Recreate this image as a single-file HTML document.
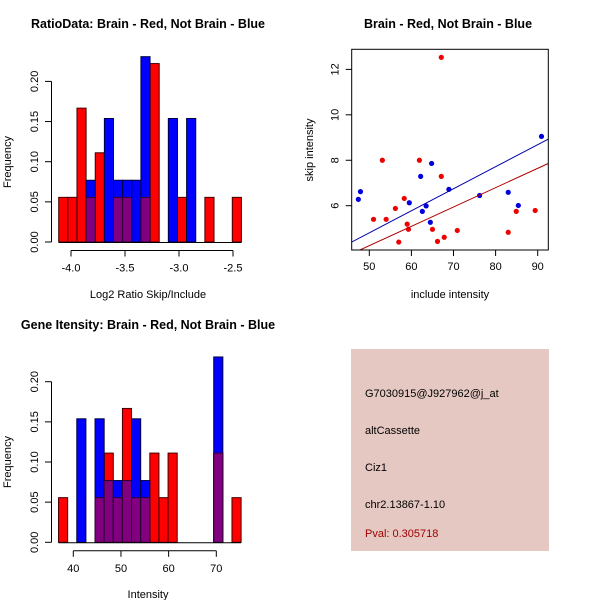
<!DOCTYPE html>
<html><head><meta charset="utf-8"><style>
body{margin:0;background:#fff}
svg{display:block;font-family:"Liberation Sans",sans-serif}
</style></head><body>
<svg id="s" width="600" height="600" viewBox="0 0 600 600" xmlns="http://www.w3.org/2000/svg">
<rect width="600" height="600" fill="#fff"/>
<text x="148" y="28" text-anchor="middle" font-size="12.5" font-weight="bold">RatioData: Brain - Red, Not Brain - Blue</text>
<text x="448" y="28" text-anchor="middle" font-size="12.5" font-weight="bold">Brain - Red, Not Brain - Blue</text>
<text x="148" y="329" text-anchor="middle" font-size="12.5" font-weight="bold">Gene Itensity: Brain - Red, Not Brain - Blue</text>
<text x="148" y="298" text-anchor="middle" font-size="11">Log2 Ratio Skip/Include</text>
<text x="148" y="598" text-anchor="middle" font-size="11">Intensity</text>
<text x="450" y="298" text-anchor="middle" font-size="11">include intensity</text>
<text transform="translate(11,162) rotate(-90)" text-anchor="middle" font-size="11">Frequency</text>
<text transform="translate(11,462) rotate(-90)" text-anchor="middle" font-size="11">Frequency</text>
<text transform="translate(313,150) rotate(-90)" text-anchor="middle" font-size="11">skip intensity</text>
<g>
<rect x="351" y="349" width="198" height="202" fill="#e6c8c2"/>
<text x="365" y="397" font-size="11">G7030915@J927962@j_at</text>
<text x="365" y="434" font-size="11">altCassette</text>
<text x="365" y="471" font-size="11">Ciz1</text>
<text x="365" y="508" font-size="11">chr2.13867-1.10</text>
<text x="365" y="537" font-size="11" fill="#a00000">Pval: 0.305718</text>
</g>
<g id="g1"></g><g id="g2"></g><g id="g3"></g>
</svg>
<script>
// Ratio histogram data
const ratioStart = -4.114, ratioBinWidth = 0.0846;
const ratioRed =  [0.0556,0.0556,0.1667,0.0556,0.1111,0,0.0556,0.0556,0,0.0556,0.2222,0,0,0.0556,0,0,0.0556,0,0,0.0556];
const ratioBlue = [0,0,0,0.0769,0,0.1538,0.0769,0.0769,0.0769,0.2308,0,0,0.1538,0,0.1538,0,0,0,0,0];
const ratioXTicks = [-4.0,-3.5,-3.0,-2.5];
const freqTicks = [0,0.05,0.10,0.15,0.20];
// Intensity histogram data
const intStart = 36.9, intBinWidth = 1.915;
const intRed =  [0.0556,0,0,0,0.0556,0.1111,0.0556,0.1667,0.0556,0.0556,0.1111,0.0556,0.1111,0,0,0,0,0.1111,0,0.0556];
const intBlue = [0,0,0.1538,0,0.1538,0.0769,0.0769,0.0769,0.1538,0.0769,0,0,0,0,0,0,0,0.2308,0,0];
const intXTicks = [40,50,60,70];
// Scatter data
const blueX = [47.4,47.9,59.5,62.2,64.8,62.6,63.5,64.5,68.9,76.2,83.0,85.4,90.9];
const blueY = [6.28,6.62,6.13,7.29,7.86,5.75,5.99,5.27,6.72,6.45,6.59,6.01,9.05];
const redX = [51.0,53.1,54.0,56.2,57.0,58.3,59.0,59.3,61.9,65.0,66.2,67.1,67.1,67.8,70.9,83.0,84.9,89.4];
const redY = [5.40,8.0,5.40,5.88,4.40,6.32,5.19,4.96,8.0,4.96,4.43,12.53,7.29,4.61,4.91,4.83,5.75,5.79];
const blueFit = [-0.044,0.097];
const redFit = [-0.014,0.0851];
const scatterXTicks = [50,60,70,80,90];
const scatterYTicks = [6,8,10,12];

const NS="http://www.w3.org/2000/svg";
function mk(p,t,a){const e=document.createElementNS(NS,t);for(const k in a)e.setAttribute(k,a[k]);p.appendChild(e);return e;}

function hist(g,y0,start,bw,red,blue,xt,fmt,xscale){
  const ys=v=>y0-v*803;
  const xs=xscale;
  const n=red.length;
  for(let i=0;i<n;i++){
    const a=xs(start+i*bw),b=xs(start+(i+1)*bw);
    if(red[i]>0){const r=mk(g,'rect',{x:a,y:ys(red[i]),width:b-a,height:y0-ys(red[i]),fill:'#ff0000',stroke:'#400000','stroke-width':1});
      
      }
  }
  for(let i=0;i<n;i++){
    const a=xs(start+i*bw),b=xs(start+(i+1)*bw);
    if(blue[i]>0){const r=mk(g,'rect',{x:a,y:ys(blue[i]),width:b-a,height:y0-ys(blue[i]),fill:'#0000ff',stroke:'#000040','stroke-width':1});
      
      }
    if(blue[i]>0&&red[i]>0){const m=Math.min(red[i],blue[i]);const r=mk(g,'rect',{x:a,y:ys(m),width:b-a,height:y0-ys(m),fill:'#800080',stroke:'#300030','stroke-width':1});
      
      }
  }
  mk(g,'line',{x1:xs(start),x2:xs(start+n*bw),y1:y0+0.5,y2:y0+0.5,stroke:'#000'});
  // y axis
  const ya=mk(g,'g',{});
  
  
  mk(ya,'line',{x1:51.5,x2:51.5,y1:ys(0),y2:ys(0.2),stroke:'#000'});
  freqTicks.forEach(v=>{mk(ya,'line',{x1:45,x2:51.5,y1:ys(v),y2:ys(v),stroke:'#000'});
    const t=mk(ya,'text',{transform:`translate(38,${ys(v)}) rotate(-90)`,'text-anchor':'middle','font-size':11});t.textContent=v.toFixed(2);});
  const xa=mk(g,'g',{});
  
  
  const ay=y0+8.5;
  mk(xa,'line',{x1:xs(xt[0]),x2:xs(xt[xt.length-1]),y1:ay,y2:ay,stroke:'#000'});
  xt.forEach(v=>{mk(xa,'line',{x1:xs(v),x2:xs(v),y1:ay,y2:ay+6,stroke:'#000'});
    const t=mk(xa,'text',{x:xs(v),y:ay+21,'text-anchor':'middle','font-size':11});t.textContent=fmt(v);});
}
hist(document.getElementById('g1'),242,ratioStart,ratioBinWidth,ratioRed,ratioBlue,ratioXTicks,v=>v.toFixed(1),v=>71+(v+4)*108);
hist(document.getElementById('g2'),542.3,intStart,intBinWidth,intRed,intBlue,intXTicks,v=>String(v),v=>73.3+(v-40)*4.767);

// scatter
(function(){
  const g=document.getElementById('g3');
  const xs=v=>369.3+(v-50)*4.21, ys=v=>205.7-(v-6)*22.72;
  const x0=351.7,x1=548.3,y0=49.3,y1=250;
  const cp=mk(g,'clipPath',{id:'cp'});mk(cp,'rect',{x:x0,y:y0,width:x1-x0,height:y1-y0});
  const pts=mk(g,'g',{});
  blueX.forEach((x,i)=>{const c=mk(pts,'circle',{cx:xs(x),cy:ys(blueY[i]),r:2.6,fill:'#0000dd'});
    
    });
  redX.forEach((x,i)=>{const c=mk(pts,'circle',{cx:xs(x),cy:ys(redY[i]),r:2.6,fill:'#ee0000'});
    
    });
  const lx0=45.8,lx1=92.5;
  const bl=mk(g,'line',{x1:xs(lx0),y1:ys(blueFit[0]+blueFit[1]*lx0),x2:xs(lx1),y2:ys(blueFit[0]+blueFit[1]*lx1),stroke:'#0000aa','clip-path':'url(#cp)'});
  
  
  const rl=mk(g,'line',{x1:xs(lx0),y1:ys(redFit[0]+redFit[1]*lx0),x2:xs(lx1),y2:ys(redFit[0]+redFit[1]*lx1),stroke:'#b00000','clip-path':'url(#cp)'});
  
  
  const f=mk(g,'rect',{x:x0,y:y0,width:x1-x0,height:y1-y0,fill:'none',stroke:'#000'});
  
  
  scatterXTicks.forEach(v=>{mk(g,'line',{x1:xs(v),x2:xs(v),y1:y1,y2:y1+6,stroke:'#000'});
    const t=mk(g,'text',{x:xs(v),y:y1+20,'text-anchor':'middle','font-size':11});t.textContent=v;});
  scatterYTicks.forEach(v=>{mk(g,'line',{x1:x0-6,x2:x0,y1:ys(v),y2:ys(v),stroke:'#000'});
    const t=mk(g,'text',{transform:`translate(${x0-13},${ys(v)}) rotate(-90)`,'text-anchor':'middle','font-size':11});t.textContent=v;});
})();
</script>
</body></html>
